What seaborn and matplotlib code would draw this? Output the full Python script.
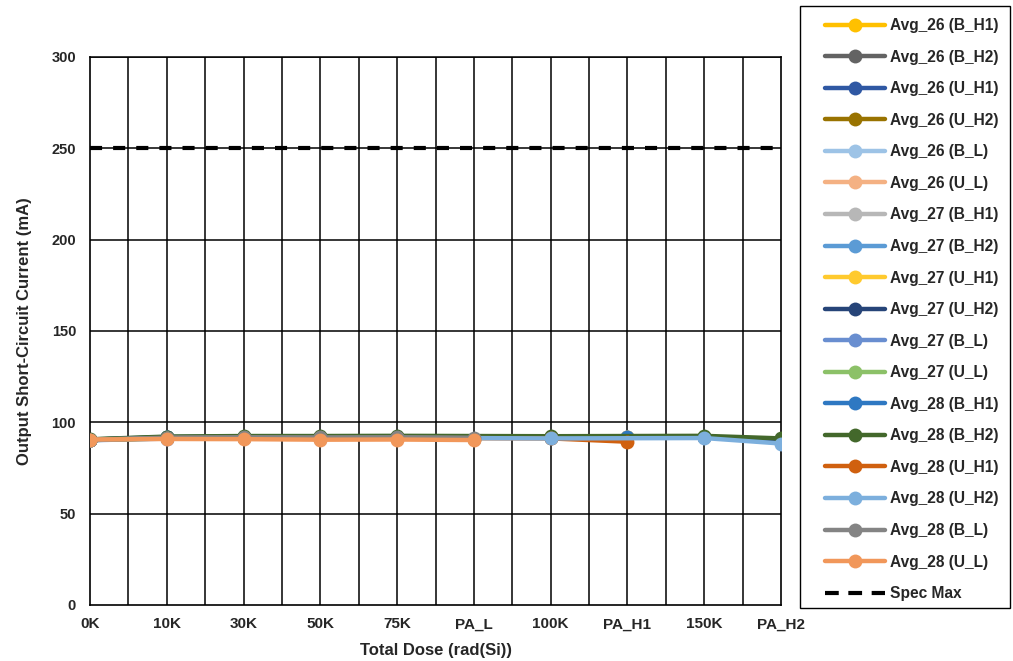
import matplotlib
matplotlib.use("Agg")
import matplotlib.pyplot as plt
import seaborn as sns
import pandas as pd
import numpy as np
from matplotlib.lines import Line2D
from matplotlib.patches import Rectangle

# Dose steps along the x axis
doses = ["0K", "10K", "30K", "50K", "75K", "PA_L", "100K", "PA_H1", "150K", "PA_H2"]

# Per-series averages (mA); None where the step is not part of that series
avg26_b_h1 = [90.4, 91.6, 91.8, 91.7, 91.8, None, 91.7, 91.6, None, None]
avg26_b_h2 = [90.3, 91.5, 91.7, 91.6, 91.7, None, 91.6, None, 91.8, 90.2]
avg26_u_h1 = [90.5, 91.7, 91.9, 91.8, 91.9, None, 91.8, 91.7, None, None]
avg26_u_h2 = [90.4, 91.6, 91.8, 91.7, 91.8, None, 91.7, None, 91.9, 90.4]
avg26_b_l  = [90.3, 91.2, 91.3, 91.2, 91.3, 91.0, None, None, None, None]
avg26_u_l  = [90.4, 91.3, 91.4, 91.3, 91.4, 91.1, None, None, None, None]
avg27_b_h1 = [90.5, 91.8, 92.0, 91.9, 92.0, None, 91.9, 91.9, None, None]
avg27_b_h2 = [90.4, 91.7, 91.9, 91.8, 91.9, None, 91.8, None, 92.0, 90.6]
avg27_u_h1 = [90.6, 91.9, 92.1, 92.0, 92.1, None, 92.0, 91.8, None, None]
avg27_u_h2 = [90.5, 91.8, 92.0, 91.9, 92.0, None, 91.9, None, 92.1, 90.8]
avg27_b_l  = [90.2, 91.1, 91.2, 91.1, 91.2, 90.9, None, None, None, None]
avg27_u_l  = [90.3, 91.2, 91.3, 91.2, 91.3, 91.0, None, None, None, None]
avg28_b_h1 = [90.6, 92.0, 92.2, 92.1, 92.2, None, 92.1, 91.9, None, None]
avg28_b_h2 = [90.7, 92.2, 92.5, 92.5, 92.6, None, 92.4, None, 92.6, 91.2]
avg28_u_h1 = [90.3, 91.4, 91.5, 91.4, 91.5, None, 91.2, 89.4, None, None]
avg28_u_h2 = [90.4, 91.4, 91.5, 91.4, 91.5, None, 91.2, None, 91.4, 88.4]
avg28_b_l  = [90.5, 91.6, 91.8, 91.7, 91.8, 91.5, None, None, None, None]
avg28_u_l  = [90.6, 90.9, 90.8, 90.5, 90.6, 90.3, None, None, None, None]

spec_max = 250

series = {
    "Avg_26 (B_H1)": (avg26_b_h1, "#FFC000"),
    "Avg_26 (B_H2)": (avg26_b_h2, "#636363"),
    "Avg_26 (U_H1)": (avg26_u_h1, "#2F58A3"),
    "Avg_26 (U_H2)": (avg26_u_h2, "#997300"),
    "Avg_26 (B_L)":  (avg26_b_l,  "#9DC3E6"),
    "Avg_26 (U_L)":  (avg26_u_l,  "#F4B183"),
    "Avg_27 (B_H1)": (avg27_b_h1, "#B7B7B7"),
    "Avg_27 (B_H2)": (avg27_b_h2, "#5B9BD5"),
    "Avg_27 (U_H1)": (avg27_u_h1, "#FFCA2E"),
    "Avg_27 (U_H2)": (avg27_u_h2, "#264478"),
    "Avg_27 (B_L)":  (avg27_b_l,  "#698ED0"),
    "Avg_27 (U_L)":  (avg27_u_l,  "#8CC168"),
    "Avg_28 (B_H1)": (avg28_b_h1, "#2E78C2"),
    "Avg_28 (B_H2)": (avg28_b_h2, "#43682B"),
    "Avg_28 (U_H1)": (avg28_u_h1, "#D0600F"),
    "Avg_28 (U_H2)": (avg28_u_h2, "#7CAFDD"),
    "Avg_28 (B_L)":  (avg28_b_l,  "#848484"),
    "Avg_28 (U_L)":  (avg28_u_l,  "#F1975A"),
}

rows = []
for name, (vals, _) in series.items():
    for i, v in enumerate(vals):
        if v is not None:
            rows.append({"series": name, "pos": i, "value": v})
df = pd.DataFrame(rows)
palette = {k: c for k, (_, c) in series.items()}

sns.set_theme(style="white")
plt.rcParams["font.family"] = ["Liberation Sans", "DejaVu Sans"]

W, H = 1013, 661
fig = plt.figure(figsize=(W / 100, H / 100), dpi=100)
ax = fig.add_axes([90 / W, 1 - 605 / H, (781 - 90) / W, (605 - 57) / H])

# Grid: horizontal every 50, vertical at each step and between steps
for y in range(50, 301, 50):
    ax.axhline(y, color="black", lw=1.1, zorder=0)
for x in np.arange(0.5, 9.0, 0.5):
    ax.axvline(x, color="black", lw=1.1, zorder=0)

for name in series:
    sub = df[df["series"] == name]
    sns.lineplot(data=sub, x="pos", y="value", ax=ax, color=palette[name],
                 lw=3.2, marker="o", markersize=10, markeredgewidth=0,
                 legend=False, zorder=3, sort=True, estimator=None)

ax.axhline(spec_max, color="black", lw=3, ls=(0, (2.9, 2.65)), zorder=4)

ax.set_xlim(0, 9)
ax.set_ylim(0, 300)
ax.set_xticks(range(len(doses)))
ax.set_xticklabels(doses, fontsize=11, fontweight="bold")
ax.set_yticks(range(0, 301, 50))
ax.set_yticklabels([str(v) for v in range(0, 301, 50)], fontsize=10.5, fontweight="bold")
ax.tick_params(axis="x", length=0, pad=9)
ax.tick_params(axis="y", length=0, pad=10)
for s in ax.spines.values():
    s.set_color("black")
    s.set_linewidth(1.2)
ax.spines["top"].set_linewidth(1.1)

ax.set_xlabel("Total Dose (rad(Si))", fontsize=12, fontweight="bold", labelpad=8)
ax.set_ylabel("Output Short-Circuit Current (mA)", fontsize=12, fontweight="bold",
              labelpad=14)

# Legend: entries placed without frame, border drawn as a separate box
handles = [Line2D([0], [0], color=c, lw=3.2, marker="o", markersize=10,
                  markeredgewidth=0) for _, (_, c) in series.items()]
labels = list(series.keys())
handles.append(Line2D([0], [0], color="black", lw=3, ls=(0, (3.3, 2.3))))
labels.append("Spec Max")

leg = fig.legend(handles, labels, loc="upper left",
                 bbox_to_anchor=(825 / W, 1 - 18 / H),
                 prop={"weight": "bold", "size": 11.2},
                 handlelength=3.85, labelspacing=1.065, handletextpad=0.32,
                 borderpad=0, frameon=False, borderaxespad=0)
fig.add_artist(Rectangle((800 / W, 1 - 608 / H), 210 / W, 602 / H,
                         transform=fig.transFigure, fill=False,
                         edgecolor="black", lw=1.0))

fig.savefig("out.png", dpi=100)
